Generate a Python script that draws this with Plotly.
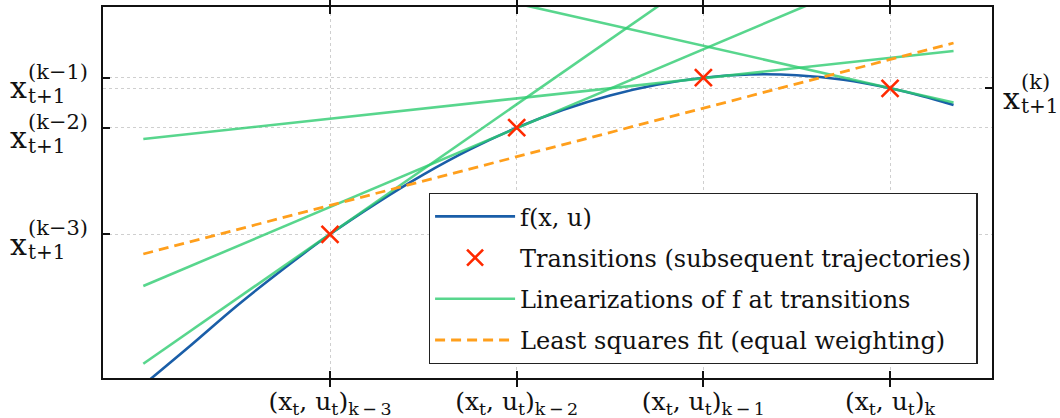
import plotly.graph_objects as go

# ---- data ----
x_tick_vals = [0, 1, 2, 3]
x_tick_subs = ["k − 3", "k − 2", "k − 1", "k"]

trans_x = [0, 1, 2, 3]
trans_y = [1.437, 2.503, 3.003, 2.897]

f_x = [-1, -0.75, -0.5, -0.25, 0, 0.25, 0.5, 0.75, 1, 1.25, 1.5, 1.75, 2,
       2.25, 2.5, 2.75, 3, 3.17, 3.34]
f_y = [-0.07, 0.32, 0.72, 1.09, 1.437, 1.749, 2.034, 2.286, 2.503, 2.683,
       2.826, 2.933, 3.003, 3.035, 3.028, 2.982, 2.897, 2.82, 2.73]

lin_x = [-1, 3.34]
lin1_y = [0.143, 5.77]
lin2_y = [0.92, 4.346]
lin3_y = [2.39, 3.27]
lin4_y = [4.59, 2.756]

lsq_x = [-1, 3.34]
lsq_y = [1.24, 3.35]

left_tick_vals = [1.437, 2.503, 3.003]
left_tick_sups = ["(k−3)", "(k−2)", "(k−1)"]
right_tick_vals = [2.897]
right_tick_sups = ["(k)"]

# ---- styles ----
FONT = "DejaVu Serif"
BLUE = "#1a5ea8"
GREEN = "rgba(46,204,113,0.8)"
ORANGE = "#ff9f1c"
RED = "#ff2a00"
GRID = "#cfcfcf"
INK = "#111"

L, R, T, B = 103, 68, 7, 40
PW = 1060 - L - R

fig = go.Figure()

fig.add_trace(go.Scatter(x=f_x, y=f_y, mode="lines", line=dict(color=BLUE, width=2.6, shape="spline"),
                         name="f(x, u)", legendgroup="f", legendrank=1))
for i, ly in enumerate([lin1_y, lin2_y, lin3_y, lin4_y]):
    fig.add_trace(go.Scatter(x=lin_x, y=ly, mode="lines", line=dict(color=GREEN, width=2.6),
                             name="Linearizations of f at transitions", legendgroup="lin",
                             showlegend=(i == 0), legendrank=3))
fig.add_trace(go.Scatter(x=lsq_x, y=lsq_y, mode="lines", line=dict(color=ORANGE, width=2.8, dash="10px,6px"),
                         name="Least squares fit (equal weighting)", legendgroup="lsq", legendrank=4))
fig.add_trace(go.Scatter(x=trans_x, y=trans_y, mode="markers",
                         marker=dict(symbol="x-thin", size=17, line=dict(color=RED, width=2.6), color=RED),
                         name="Transitions (subsequent trajectories)", legendgroup="tr", legendrank=2))
# invisible trace to activate the right-hand axis
fig.add_trace(go.Scatter(x=[trans_x[0]], y=[trans_y[0]], yaxis="y2", mode="markers",
                         marker=dict(opacity=0), showlegend=False, hoverinfo="skip"))

x_tick_text = ["(x<sub>t</sub>, u<sub>t</sub>)<sub>%s</sub>" % s.replace(" ", "\u2009") for s in x_tick_subs]

axis_common = dict(ticks="inside", ticklen=7, tickwidth=1.5, tickcolor=INK, zeroline=False,
                   showgrid=True, gridcolor=GRID, griddash="dot", gridwidth=1, automargin=False)

fig.update_layout(
    width=1060, height=418,
    margin=dict(l=L, r=R, t=T, b=B, autoexpand=False),
    plot_bgcolor="white", paper_bgcolor="white",
    font=dict(family=FONT, color=INK),
    xaxis=dict(range=[-1.216, 3.546], tickvals=x_tick_vals, ticktext=x_tick_text,
               tickfont=dict(size=25, family=FONT, color=INK),
               showline=True, linecolor=INK, linewidth=2, mirror="allticks", **axis_common),
    yaxis=dict(range=[0, 3.71], tickvals=left_tick_vals, showticklabels=False,
               showline=True, linecolor=INK, linewidth=2, mirror=True, **axis_common),
    yaxis2=dict(range=[0, 3.71], overlaying="y", side="right", tickvals=right_tick_vals,
                showticklabels=False, showline=False, **axis_common),
    legend=dict(x=0.984, y=0.0377, xanchor="right", yanchor="bottom",
                bgcolor="white", bordercolor="#222", borderwidth=1.3,
                font=dict(family=FONT, size=24, color=INK),
                traceorder="grouped", tracegroupgap=7, itemwidth=80),
    showlegend=True,
)

annotations = []
def add_label(yval, sup, px0, yref):
    annotations.append(dict(xref="paper", yref=yref, x=(px0 - L) / PW, y=yval, text="x",
                            showarrow=False, xanchor="left", yanchor="middle", yshift=-10,
                            font=dict(family=FONT, size=30, color=INK)))
    annotations.append(dict(xref="paper", yref=yref, x=(px0 + 18 - L) / PW, y=yval, text=sup,
                            showarrow=False, xanchor="left", yanchor="middle", yshift=6,
                            font=dict(family=FONT, size=21, color=INK)))
    annotations.append(dict(xref="paper", yref=yref, x=(px0 + 18 - L) / PW, y=yval, text="t+1",
                            showarrow=False, xanchor="left", yanchor="middle", yshift=-18,
                            font=dict(family=FONT, size=20, color=INK)))

for v, s in zip(left_tick_vals, left_tick_sups):
    add_label(v, s, 8, "y")
for v, s in zip(right_tick_vals, right_tick_sups):
    add_label(v, s, 1001, "y2")
fig.update_layout(annotations=annotations)

fig.write_html("out.html", config={"displayModeBar": False},
               post_script="document.body.style.margin='0';document.body.style.overflow='hidden';")
